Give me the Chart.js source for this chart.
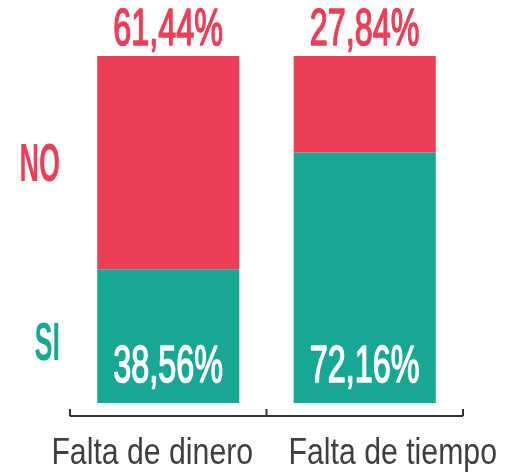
<!DOCTYPE html>
<html>
<head>
<meta charset="utf-8">
<script src="https://cdn.jsdelivr.net/npm/chart.js@4/dist/chart.umd.min.js"></script>
<style>
  html, body { margin: 0; padding: 0; background: #fff; }
  #wrap { width: 505px; height: 474px; }
</style>
</head>
<body>
<div id="wrap"><canvas id="myChart0"></canvas></div>
<script>
// datos
var categorias = ['Falta de dinero', 'Falta de tiempo'];
var valoresSi = [38.56, 72.16];
var valoresNo = [61.44, 27.84];
var etiquetasSerie = ['SI', 'NO'];

var rojo = '#EE3E57';
var verde = '#16A795';

function fmt(v) {
  return v.toFixed(2).replace('.', ',') + '%';
}

// texto estrecho (escalado en horizontal, no hay fuente condensada)
function textoEstrecho(ctx, txt, x, y, font, color, esc, align, grosor) {
  ctx.save();
  ctx.font = font;
  ctx.fillStyle = color;
  ctx.textBaseline = 'alphabetic';
  ctx.textAlign = align || 'center';
  ctx.translate(x, y);
  ctx.scale(esc, 1);
  ctx.fillText(txt, 0, 0);
  if (grosor) {
    ctx.strokeStyle = color;
    ctx.lineWidth = grosor;
    ctx.lineJoin = 'round';
    ctx.strokeText(txt, 0, 0);
  }
  ctx.restore();
}

var etiquetasPlugin = {
  id: 'etiquetas',
  afterDatasetsDraw: function(chart) {
    var ctx = chart.ctx;
    var area = chart.chartArea;
    var xs = chart.scales.x;
    var metaSi = chart.getDatasetMeta(0);
    var metaNo = chart.getDatasetMeta(1);
    var fValor = '51px "Liberation Sans", sans-serif';
    var fSerie = 'bold 53px "Liberation Sans", sans-serif';
    var fCat = '36px "Liberation Sans", sans-serif';
    var desplCat = [-16, 28]; // las etiquetas no van centradas en la barra

    for (var i = 0; i < categorias.length; i++) {
      var barNo = metaNo.data[i];
      var barSi = metaSi.data[i];
      textoEstrecho(ctx, fmt(valoresNo[i]), barNo.x, barNo.y - 11, fValor, rojo, 0.635, 'center', 1.6);
      textoEstrecho(ctx, fmt(valoresSi[i]), barSi.x, barSi.base - 21, fValor, '#ffffff', 0.635, 'center', 1.6);
      // categorias
      textoEstrecho(ctx, categorias[i], xs.getPixelForTick(i) + desplCat[i], area.bottom + 61, fCat, '#3f3f3f', 0.84);
    }

    // NO / SI a la izquierda
    var b0No = metaNo.data[0];
    var b0Si = metaSi.data[0];
    var midNo = (b0No.y + b0No.base) / 2;
    var midSi = (b0Si.y + b0Si.base) / 2;
    textoEstrecho(ctx, etiquetasSerie[1], area.left - 10, midNo + 18, fSerie, rojo, 0.51, 'right');
    textoEstrecho(ctx, etiquetasSerie[0], area.left - 10, midSi + 24, fSerie, verde, 0.51, 'right');

    // llave del eje x
    var yLinea = area.bottom + 13;
    var marcas = [xs.left, (xs.getPixelForTick(0) + xs.getPixelForTick(1)) / 2, xs.right];
    ctx.save();
    ctx.strokeStyle = '#333333';
    ctx.lineWidth = 2;
    ctx.beginPath();
    ctx.moveTo(xs.left, yLinea);
    ctx.lineTo(xs.right, yLinea);
    for (var k = 0; k < marcas.length; k++) {
      ctx.moveTo(marcas[k], yLinea);
      ctx.lineTo(marcas[k], yLinea - 7);
    }
    ctx.stroke();
    ctx.restore();
  }
};

var ctx = document.getElementById('myChart0').getContext('2d');
var chart = new Chart(ctx, {
  type: 'bar',
  data: {
    labels: categorias,
    datasets: [{
      label: etiquetasSerie[0],
      backgroundColor: verde,
      borderWidth: 0,
      data: valoresSi
    }, {
      label: etiquetasSerie[1],
      backgroundColor: rojo,
      borderWidth: 0,
      data: valoresNo
    }]
  },
  options: {
    responsive: true,
    maintainAspectRatio: false,
    animation: false,
    barPercentage: 0.723,
    categoryPercentage: 1,
    layout: { padding: { left: 70, right: 42, top: 56, bottom: 71 } },
    plugins: {
      legend: { display: false },
      tooltip: { enabled: false }
    },
    scales: {
      x: {
        stacked: true,
        grid: { display: false, drawTicks: false },
        border: { display: false },
        ticks: { display: false }
      },
      y: {
        stacked: true,
        display: false,
        min: 0,
        max: 100
      }
    }
  },
  plugins: [etiquetasPlugin]
});
</script>
</body>
</html>
